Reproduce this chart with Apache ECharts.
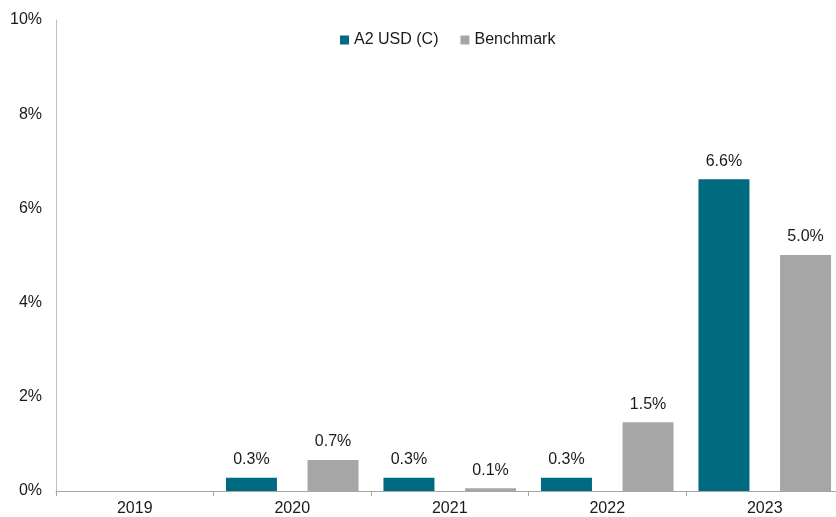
<!DOCTYPE html>
<html>
<head>
<meta charset="utf-8">
<script src="https://cdn.jsdelivr.net/npm/echarts@6/dist/echarts.min.js"></script>
<style>
  html, body { margin: 0; padding: 0; background: #fff; }
  #chart { width: 836px; height: 517px; }
</style>
</head>
<body>
<div id="chart"></div>
<script>
const years = ['2019', '2020', '2021', '2022', '2023']
const fundName = 'A2 USD (C)'
const benchName = 'Benchmark'
// yearly returns in % (null = no data)
const fundValues = [null, 0.28, 0.28, 0.28, 6.62]
const benchValues = [null, 0.66, 0.06, 1.46, 5.01]
const yTicks = [0, 2, 4, 6, 8, 10]

const font = 'Arial, "Liberation Sans", sans-serif'
const textColor = '#1a1a1a'

const chart = echarts.init(document.getElementById('chart'))

const label = {
  show: true,
  position: 'top',
  distance: 10,
  color: textColor,
  fontFamily: font,
  fontSize: 16,
  formatter: (p) => p.value.toFixed(1) + '%',
}

chart.setOption({
  animation: false,
  textStyle: { fontFamily: font },
  legend: {
    left: 335,
    top: 27,
    itemWidth: 9,
    itemHeight: 9,
    itemGap: 22,
    icon: 'rect',
    textStyle: { color: textColor, fontSize: 16, fontFamily: font },
    data: [fundName, benchName],
  },
  grid: {
    left: 56,
    top: 20,
    right: -7.5,
    bottom: 26,
    outerBoundsMode: 'none',
  },
  xAxis: {
    type: 'category',
    data: years,
    axisLine: { show: true, lineStyle: { color: '#a6a6a6', width: 1 } },
    axisTick: { show: true, length: 5, lineStyle: { color: '#a6a6a6' } },
    axisLabel: { color: textColor, fontSize: 16, fontFamily: font, margin: 10 },
  },
  yAxis: {
    type: 'value',
    min: yTicks[0],
    max: yTicks[yTicks.length - 1],
    interval: 2,
    axisLine: { show: true, lineStyle: { color: '#bfbfbf', width: 1 } },
    axisTick: { show: false },
    splitLine: { show: false },
    axisLabel: {
      color: textColor,
      fontSize: 16,
      fontFamily: font,
      margin: 14,
      formatter: (v) => v + '%',
    },
  },
  series: [
    {
      name: fundName,
      type: 'bar',
      data: fundValues,
      barWidth: 51,
      barGap: '60%',
      itemStyle: { color: '#006a80' },
      label: label,
    },
    {
      name: benchName,
      type: 'bar',
      data: benchValues,
      barWidth: 51,
      itemStyle: { color: '#a6a6a6' },
      label: label,
    },
  ],
})
</script>
</body>
</html>
